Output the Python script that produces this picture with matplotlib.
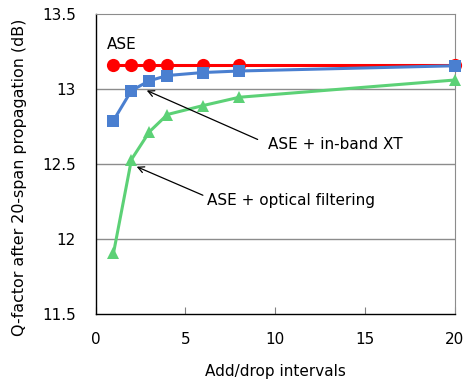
import matplotlib
matplotlib.use("Agg")
import matplotlib.pyplot as plt

intervals = [1, 2, 3, 4, 6, 8, 20]
q_ase = [13.16, 13.16, 13.16, 13.16, 13.16, 13.16, 13.16]
q_xt = [12.79, 12.99, 13.055, 13.09, 13.11, 13.12, 13.155]
q_filter = [11.905, 12.53, 12.715, 12.83, 12.89, 12.945, 13.06]

x_ticks = [0, 5, 10, 15, 20]
y_ticks = [11.5, 12, 12.5, 13, 13.5]
y_tick_labels = ["11.5", "12", "12.5", "13", "13.5"]

plt.rcParams["font.family"] = ["DejaVu Sans"]
fig = plt.figure(figsize=(4.74, 3.83), dpi=100)
ax = fig.add_axes([95.5 / 474, 1 - 314 / 383, (455 - 95.5) / 474, 300 / 383])

ax.set_xlim(0, 20)
ax.set_ylim(11.5, 13.5)
ax.set_xticks(x_ticks)
ax.set_yticks(y_ticks)
ax.set_yticklabels(y_tick_labels)
ax.tick_params(axis="x", direction="in", length=5, width=0.8, color="#808080",
               labelsize=11, pad=13)
ax.tick_params(axis="y", length=0, labelsize=11, pad=14)
for y in [12, 12.5, 13]:
    ax.axhline(y, color="#8c8c8c", lw=1.0, zorder=0)
for side in ["top", "right"]:
    ax.spines[side].set_color("#8c8c8c")
for side in ["left", "bottom"]:
    ax.spines[side].set_color("black")
    ax.spines[side].set_linewidth(1.0)

ax.plot(intervals, q_filter, color="#5cd176", lw=2.2, marker="^", ms=9,
        markeredgewidth=0, zorder=3, clip_on=False)
ax.plot(intervals, q_ase, color="#ff0000", lw=2.2, marker="o", ms=9.5,
        markeredgewidth=0, zorder=4, clip_on=False)
ax.plot(intervals, q_xt, color="#4a7fd0", lw=2.2, marker="s", ms=9,
        markeredgewidth=0, zorder=5, clip_on=False)

ax.text(0.62, 13.295, "ASE", fontsize=11, ha="left", va="center")
ax.annotate("ASE + in-band XT", xy=(2.85, 12.99), xytext=(9.6, 12.633),
            fontsize=11, ha="left", va="center",
            arrowprops=dict(arrowstyle="->", color="black", lw=0.9,
                            shrinkA=6, shrinkB=0, relpos=(0, 0.5)))
ax.annotate("ASE + optical filtering", xy=(2.29, 12.482), xytext=(6.2, 12.26),
            fontsize=11, ha="left", va="center",
            arrowprops=dict(arrowstyle="->", color="black", lw=0.9,
                            shrinkA=1, shrinkB=0, relpos=(0, 0.7)))

ax.set_xlabel("Add/drop intervals", fontsize=11, labelpad=12)
ax.set_ylabel("Q-factor after 20-span propagation (dB)", fontsize=11.4)
ax.yaxis.set_label_coords(-0.19, 0.457)

fig.savefig("out.png", dpi=100)
